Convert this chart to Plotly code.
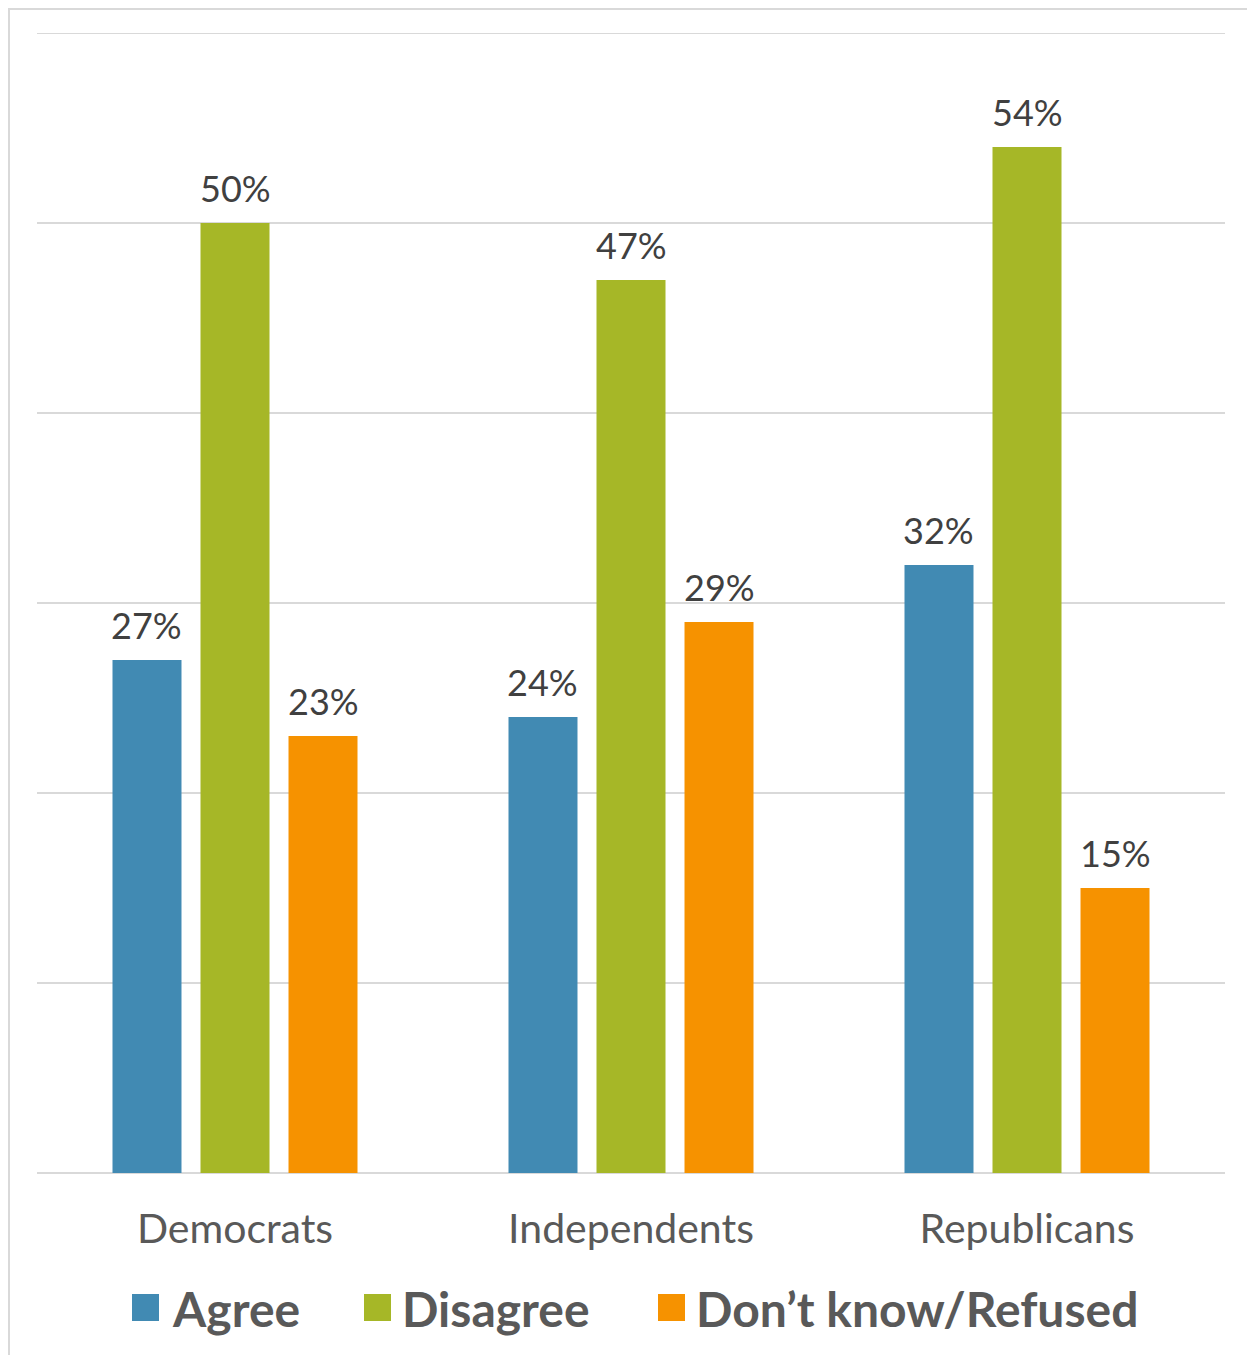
import plotly.graph_objects as go

categories = ["Democrats", "Independents", "Republicans"]
series_names = ["Agree", "Disagree", "Don’t know/Refused"]
agree = [27, 24, 32]
disagree = [50, 47, 54]
dont_know = [23, 29, 15]
colors = ["#418AB3", "#A6B727", "#F69200"]

OFF = 8  # default page body margin
W, H = 1255 - OFF, 1355 - OFF
L, T = 37 - OFF, 33 - OFF
R = W - (1225 - OFF)
B = H - (1173 - OFF)
pw, ph = W - L - R, H - T - B

fig = go.Figure()
all_vals = [agree, disagree, dont_know]
for name, vals, col in zip(series_names, all_vals, colors):
    fig.add_trace(go.Bar(x=categories, y=vals, name=name, marker=dict(color=col, line=dict(width=0)),
                         showlegend=False))

# data labels
slot = pw / 3 * (1 - 0.3333) / 3
shifts = [-slot, 0, slot]
for vals, sh in zip(all_vals, shifts):
    for c, v in zip(categories, vals):
        fig.add_annotation(x=c, y=v, xref="x", yref="y", text=f"{v}%", showarrow=False,
                           xshift=sh, yshift=11, yanchor="bottom",
                           font=dict(family="Lato", size=36, color="#404040"))

# custom legend (positions given in reference-image pixels)
def px_x(x):
    return (x - OFF - L) / pw
def px_y(y):
    return (H - B - (y - OFF)) / ph

legend_items = [(132, 170), (364, 400), (658, 694)]
for (sx, tx), name, col in zip(legend_items, series_names, colors):
    fig.add_shape(type="rect", xref="paper", yref="paper",
                  x0=px_x(sx), x1=px_x(sx + 27), y0=px_y(1321), y1=px_y(1294),
                  fillcolor=col, line=dict(width=0))
    fig.add_annotation(xref="paper", yref="paper", x=px_x(tx), y=px_y(1308), text=f"<b>{name}</b>",
                       showarrow=False, xanchor="left", yanchor="middle",
                       font=dict(family="Lato", size=48, color="#595959"))

# top gridline at the range edge
fig.add_shape(type="line", xref="paper", yref="y", x0=0, x1=1, y0=60, y1=60,
              line=dict(color="#d9d9d9", width=2))

# outer border (left, top, right), kept just inside the figure
bl, bt, br = OFF + 1, OFF + 1, 1254
fig.add_shape(type="path", xref="paper", yref="paper",
              path=f"M {px_x(bl)} {px_y(1400)} L {px_x(bl)} {px_y(bt)} L {px_x(br)} {px_y(bt)} L {px_x(br)} {px_y(1400)}",
              line=dict(color="#d9d9d9", width=2))

fig.update_layout(
    width=W, height=H,
    margin=dict(l=L, r=R, t=T, b=B, pad=0),
    paper_bgcolor="white", plot_bgcolor="white",
    barmode="group", bargap=0.3333, bargroupgap=0.216,
    showlegend=False,
    font=dict(family="Lato", color="#595959"),
)
fig.update_xaxes(showline=False, ticks="", tickfont=dict(family="Lato", size=41, color="#595959"),
                 ticklabelstandoff=28, showgrid=False)
fig.update_yaxes(range=[0, 60], dtick=10, showticklabels=False, showgrid=True, gridcolor="#d9d9d9",
                 gridwidth=2, zeroline=True, zerolinecolor="#d9d9d9", zerolinewidth=2)

fig.write_html("out.html")
